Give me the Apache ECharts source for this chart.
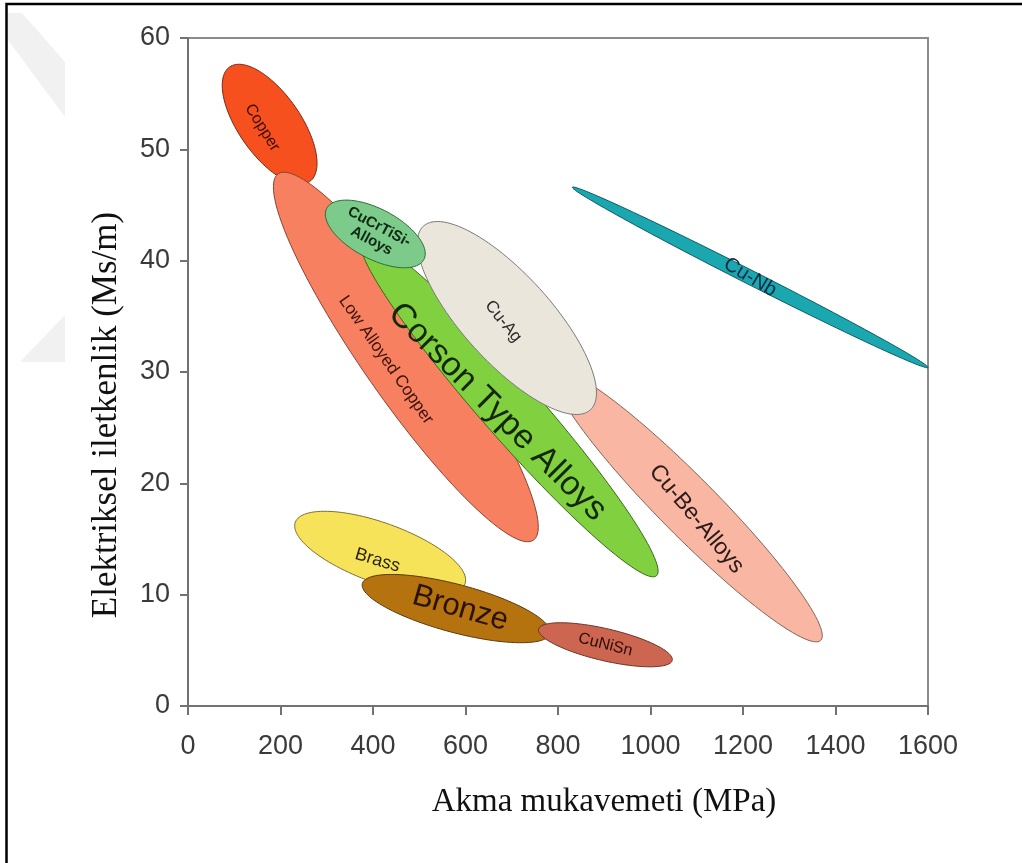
<!DOCTYPE html>
<html>
<head>
<meta charset="utf-8">
<script src="https://cdn.jsdelivr.net/npm/echarts@6/dist/echarts.min.js"></script>
<style>
  html, body { margin: 0; padding: 0; background: #fff; }
  #chart { width: 1022px; height: 863px; }
</style>
</head>
<body>
<div id="chart"></div>
<script>
// Property fields of copper alloy families: each field spans from one
// (yield strength, conductivity) end point to the other.
const materials = ['Cu-Nb', 'Cu-Be-Alloys', 'Copper', 'Low Alloyed Copper', 'Corson Type Alloys',
                   'Cu-Ag', 'CuCrTiSi-\nAlloys', 'Brass', 'Bronze', 'CuNiSn'];
const strengthFrom     = [831, 794,  90, 195, 376, 509, 300, 232, 377, 758];   // MPa
const strengthTo       = [1600, 1368, 263, 747, 1013, 870, 510, 599, 783, 1047]; // MPa
const conductivityFrom = [46.6, 30.0, 57.4, 47.8, 41.9, 43.1, 44.7, 16.5, 11.0, 6.9]; // MS/m
const conductivityTo   = [30.4,  5.9, 47.1, 14.9, 11.7, 26.6, 40.1, 11.0,  6.5, 4.1]; // MS/m

const xTicks = [0, 200, 400, 600, 800, 1000, 1200, 1400, 1600];
const yTicks = [0, 10, 20, 30, 40, 50, 60];

// Drawing styles for each field (same order as above)
const fieldStyle = [
  { width: 14,  fill: '#1ba7b0', stroke: '#0e5c63' },
  { width: 58,  fill: '#f9b6a2', stroke: '#80645a' },
  { width: 62,  fill: '#f5501e', stroke: '#7a2a12' },
  { width: 86,  fill: '#f68060', stroke: '#8a4432' },
  { width: 58,  fill: '#80d040', stroke: '#3a6a1c' },
  { width: 88,  fill: '#ebe6dc', stroke: '#7a7a78' },
  { width: 50,  fill: '#7ccb8a', stroke: '#2f6a3a' },
  { width: 60,  fill: '#f7e35a', stroke: '#7e7032' },
  { width: 48,  fill: '#b5730f', stroke: '#5a3a10' },
  { width: 32,  fill: '#cc6650', stroke: '#6a3426' }
];
// Label placement: fraction along the field, sideways shift (px), tilt (deg), font
const labelStyle = [
  { t: 0.50, off: 0,  rot: 31, size: 20, color: '#0b2a45' },
  { t: 0.54, off: 3,  rot: 50, size: 23, color: '#2a1a18' },
  { t: 0.49, off: 8,  rot: 58, size: 16, color: '#3a0c04' },
  { t: 0.48, off: 18, rot: null, size: 17, color: '#3a140a' },
  { t: 0.49, off: 12, rot: 45, size: 34, color: '#142808' },
  { t: 0.50, off: 5,  rot: 51, size: 17, color: '#2a2a2a' },
  { t: 0.50, off: 0,  rot: 28, size: 15, color: '#0e2a12', weight: 'bold' },
  { t: 0.50, off: 8,  rot: 17, size: 18, color: '#2a2408' },
  { t: 0.52, off: -1, rot: 16, size: 31, color: '#2a1204' },
  { t: 0.50, off: 0,  rot: 14, size: 16, color: '#2a0c06' }
];

const fieldData = materials.map((name, i) => ({
  name: name,
  value: [strengthFrom[i], conductivityFrom[i], strengthTo[i], conductivityTo[i]]
}));

function fieldGeometry(api, i) {
  const p1 = api.coord([api.value(0), api.value(1)]);
  const p2 = api.coord([api.value(2), api.value(3)]);
  const dx = p2[0] - p1[0], dy = p2[1] - p1[1];
  return {
    p1: p1, cx: (p1[0] + p2[0]) / 2, cy: (p1[1] + p2[1]) / 2,
    a: Math.hypot(dx, dy) / 2, ang: Math.atan2(dy, dx), b: fieldStyle[i].width / 2,
    dx: dx, dy: dy
  };
}

function renderField(params, api) {
  const i = params.dataIndex;
  const g = fieldGeometry(api, i);
  const ca = Math.cos(g.ang), sa = Math.sin(g.ang);
  const pts = [];
  const N = 120;
  for (let k = 0; k < N; k++) {
    const t = 2 * Math.PI * k / N;
    const u = g.a * Math.cos(t), v = g.b * Math.sin(t);
    pts.push([g.cx + u * ca - v * sa, g.cy + u * sa + v * ca]);
  }
  return {
    type: 'polygon',
    shape: { points: pts },
    style: { fill: fieldStyle[i].fill, stroke: fieldStyle[i].stroke, lineWidth: 1 }
  };
}

function renderLabel(params, api) {
  const i = params.dataIndex;
  const g = fieldGeometry(api, i);
  const ls = labelStyle[i];
  const len = Math.hypot(g.dx, g.dy);
  const nx = -g.dy / len, ny = g.dx / len;
  const x = g.p1[0] + g.dx * ls.t + nx * ls.off;
  const y = g.p1[1] + g.dy * ls.t + ny * ls.off;
  const deg = ls.rot == null ? g.ang * 180 / Math.PI : ls.rot;
  return {
    type: 'text',
    x: x, y: y,
    rotation: -deg * Math.PI / 180,
    style: {
      text: materials[i],
      fill: ls.color,
      fontSize: ls.size,
      fontFamily: '"Liberation Sans", Arial, sans-serif',
      fontWeight: ls.weight || 'normal',
      align: 'center',
      verticalAlign: 'middle',
      lineHeight: ls.size + 1
    }
  };
}

const axisColor = '#727272';
const tickFont = '"Liberation Sans", Arial, sans-serif';

const chart = echarts.init(document.getElementById('chart'), null, { renderer: 'canvas' });
chart.setOption({
  backgroundColor: '#ffffff',
  animation: false,
  grid: {
    left: 188, right: 94, top: 38, bottom: 157,
    show: true, borderColor: '#8c8c8c', borderWidth: 2, backgroundColor: '#ffffff'
  },
  xAxis: {
    type: 'value', min: xTicks[0], max: xTicks[xTicks.length - 1], interval: xTicks[1] - xTicks[0],
    axisLine: { show: true, onZero: false, lineStyle: { color: axisColor, width: 2 } },
    axisTick: { show: true, length: 9, lineStyle: { color: axisColor, width: 2 } },
    splitLine: { show: false },
    axisLabel: { color: '#3a3a3a', fontSize: 27, fontFamily: tickFont, margin: 27,
                 formatter: v => String(v) }
  },
  yAxis: {
    type: 'value', min: yTicks[0], max: yTicks[yTicks.length - 1], interval: yTicks[1] - yTicks[0],
    axisLine: { show: true, onZero: false, lineStyle: { color: axisColor, width: 2 } },
    axisTick: { show: true, length: 8, lineStyle: { color: axisColor, width: 2 } },
    splitLine: { show: false },
    axisLabel: { color: '#3a3a3a', fontSize: 27, fontFamily: tickFont, margin: 18,
                 formatter: v => String(v) }
  },
  graphic: [
    // faint background marks at the left margin
    { type: 'polygon', z: -10, silent: true,
      shape: { points: [[8, 13], [22, 13], [65, 62], [65, 117], [8, 40]] },
      style: { fill: '#f1f1f1' } },
    { type: 'polygon', z: -10, silent: true,
      shape: { points: [[65, 315], [65, 362], [20, 362]] },
      style: { fill: '#f1f1f1' } },
    // page frame
    { type: 'polyline', z: 10, silent: true,
      shape: { points: [[6.5, 863], [6.5, 4], [1022, 4]] },
      style: { stroke: '#000000', lineWidth: 2.5, fill: null } },
    // axis titles
    { type: 'text', z: 10, x: 604, y: 802, silent: true,
      style: { text: 'Akma mukavemeti (MPa)', fill: '#111111', fontSize: 33,
               fontFamily: '"Liberation Serif", "Times New Roman", serif',
               align: 'center', verticalAlign: 'middle' } },
    { type: 'text', z: 10, x: 107, y: 415, rotation: Math.PI / 2, silent: true,
      style: { text: 'Elektriksel iletkenlik (Ms/m)', fill: '#111111', fontSize: 35,
               fontFamily: '"Liberation Serif", "Times New Roman", serif',
               align: 'center', verticalAlign: 'middle' } }
  ],
  series: [
    {
      type: 'custom', name: 'fields', renderItem: renderField,
      encode: { x: [0, 2], y: [1, 3] }, data: fieldData, z: 2, silent: true
    },
    {
      type: 'custom', name: 'labels', renderItem: renderLabel,
      encode: { x: [0, 2], y: [1, 3] }, data: fieldData, z: 3, silent: true
    }
  ]
});
</script>
</body>
</html>
